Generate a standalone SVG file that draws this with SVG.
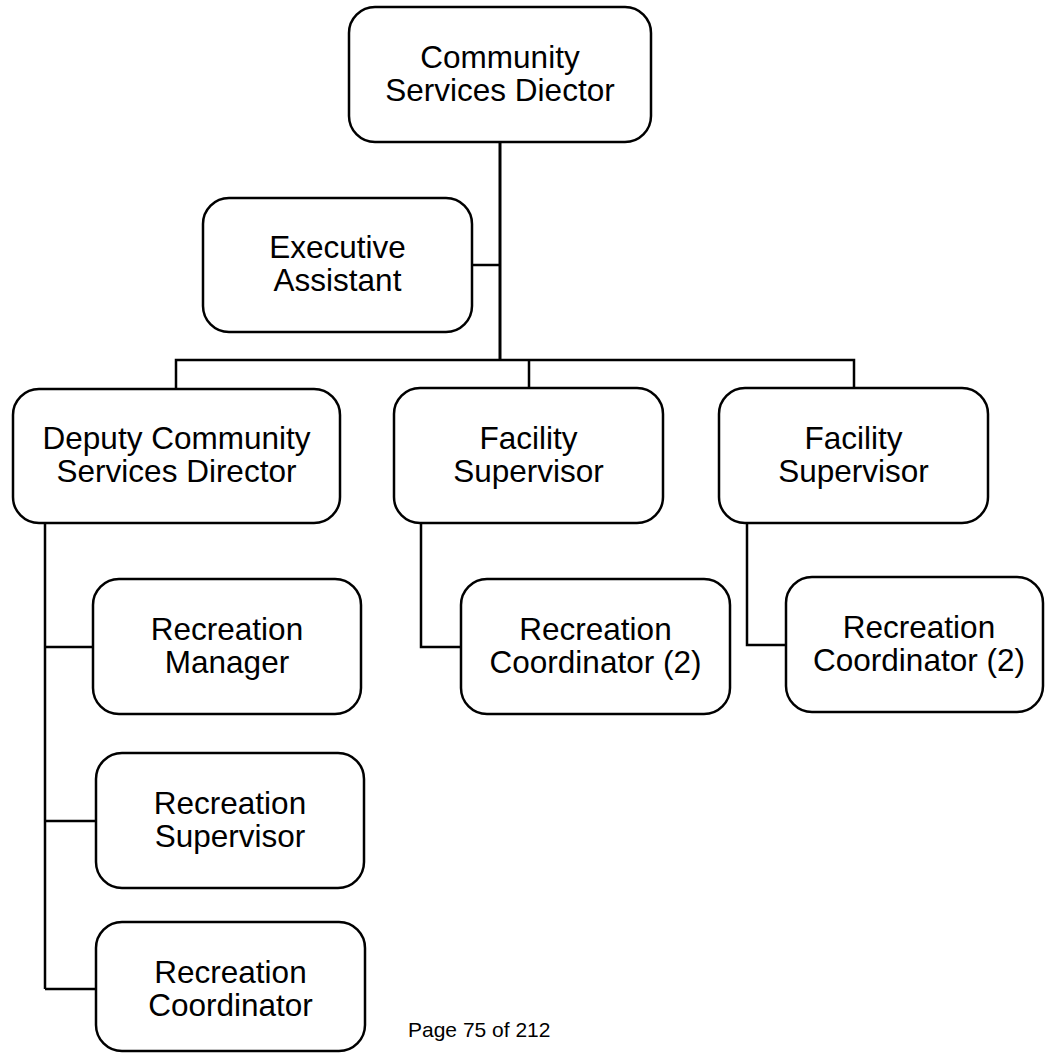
<svg xmlns="http://www.w3.org/2000/svg" width="1045" height="1053" viewBox="0 0 1045 1053">
<style>
.box{fill:#fff;stroke:#000;stroke-width:2.5}
.lbl{font-family:"Liberation Sans",Arial,sans-serif;font-size:31.5px;fill:#000;text-anchor:middle}
.ln{fill:none;stroke:#000;stroke-width:2.5}
.pg{font-family:"Liberation Sans",Arial,sans-serif;font-size:21px;fill:#000}
</style>
<rect width="1045" height="1053" fill="#fff"/>
<g id="connectors">
<path class="ln" d="M500 142V360" style="stroke-width:3"/>
<path class="ln" d="M472 265H500"/>
<path class="ln" d="M176 389V360H854V388M529 360V388"/>
<path class="ln" d="M45 523V989M45 647H93M45 821H96M45 989H96"/>
<path class="ln" d="M421 523V647H461"/>
<path class="ln" d="M747 523V645H786"/>
</g>
<g id="director">
<rect class="box" x="349" y="7" width="302" height="135" rx="26"/>
<text class="lbl" x="500" y="67.5">Community</text>
<text class="lbl" x="500" y="100.5">Services Diector</text>
</g>
<g id="exec-assistant">
<rect class="box" x="203" y="198" width="269" height="134" rx="26"/>
<text class="lbl" x="337.5" y="258">Executive</text>
<text class="lbl" x="337.5" y="291">Assistant</text>
</g>
<g id="deputy">
<rect class="box" x="13" y="389" width="327" height="134" rx="26"/>
<text class="lbl" x="176.5" y="449">Deputy Community</text>
<text class="lbl" x="176.5" y="482">Services Director</text>
</g>
<g id="facility-1">
<rect class="box" x="394" y="388" width="269" height="135" rx="26"/>
<text class="lbl" x="528.5" y="448.5">Facility</text>
<text class="lbl" x="528.5" y="481.5">Supervisor</text>
</g>
<g id="facility-2">
<rect class="box" x="719" y="388" width="269" height="135" rx="26"/>
<text class="lbl" x="853.5" y="448.5">Facility</text>
<text class="lbl" x="853.5" y="481.5">Supervisor</text>
</g>
<g id="coord-f1">
<rect class="box" x="461" y="579" width="269" height="135" rx="26"/>
<text class="lbl" x="595.5" y="639.5">Recreation</text>
<text class="lbl" x="595.5" y="672.5">Coordinator (2)</text>
</g>
<g id="coord-f2">
<rect class="box" x="786" y="577" width="257" height="135" rx="26"/>
<text class="lbl" x="919" y="637.5">Recreation</text>
<text class="lbl" x="919" y="670.5">Coordinator (2)</text>
</g>
<g id="rec-manager">
<rect class="box" x="93" y="579" width="268" height="135" rx="26"/>
<text class="lbl" x="227" y="639.5">Recreation</text>
<text class="lbl" x="227" y="672.5">Manager</text>
</g>
<g id="rec-supervisor">
<rect class="box" x="96" y="753" width="268" height="135" rx="26"/>
<text class="lbl" x="230" y="813.5">Recreation</text>
<text class="lbl" x="230" y="846.5">Supervisor</text>
</g>
<g id="rec-coordinator">
<rect class="box" x="96" y="922" width="269" height="129" rx="26"/>
<text class="lbl" x="230.5" y="982.5">Recreation</text>
<text class="lbl" x="230.5" y="1015.5">Coordinator</text>
</g>
<text class="pg" x="408" y="1037">Page 75 of 212</text>
</svg>
